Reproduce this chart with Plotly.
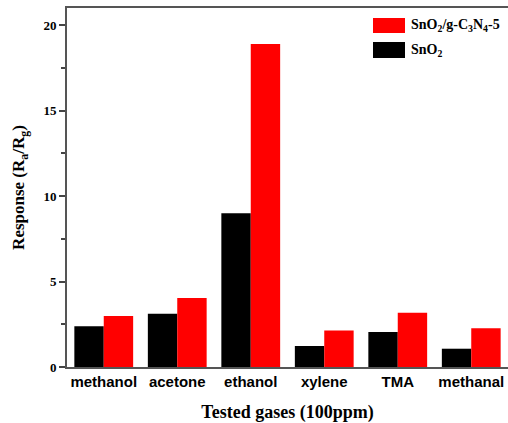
import plotly.graph_objects as go

categories = ["methanol", "acetone", "ethanol", "xylene", "TMA", "methanal"]
sno2 = [2.38, 3.12, 9.0, 1.23, 2.05, 1.07]
composite = [2.98, 4.03, 18.9, 2.14, 3.18, 2.26]
series_names = ["SnO<sub>2</sub>/g-C<sub>3</sub>N<sub>4</sub>-5", "SnO<sub>2</sub>"]

serif = "Liberation Serif"
sans = "Liberation Sans"

fig = go.Figure()
fig.add_trace(go.Bar(x=categories, y=sno2, name=series_names[1],
                     marker=dict(color="#000000", line=dict(width=0))))
fig.add_trace(go.Bar(x=categories, y=composite, name=series_names[0],
                     marker=dict(color="#ff0000", line=dict(width=0))))

# manual legend (large swatches), positioned in paper coordinates
L, W = 67, 441
B, H = 367, 359
def px(x):
    return (x - L) / W
def py(y):
    return (B - y) / H

swatches = [("#ff0000", 18, 33, series_names[0]), ("#000000", 42, 58, series_names[1])]
for color, y0, y1, label in swatches:
    fig.add_shape(type="rect", xref="paper", yref="paper",
                  x0=px(373), x1=px(405), y0=py(y1), y1=py(y0),
                  fillcolor=color, line=dict(width=0))
    fig.add_annotation(xref="paper", yref="paper", x=px(409), y=py((y0 + y1) / 2),
                       text=label, showarrow=False, xanchor="left", yanchor="middle",
                       font=dict(family=serif, size=14, color="#000", weight="bold"))

fig.update_layout(
    width=508, height=423,
    margin=dict(l=67, r=0, t=8, b=56),
    paper_bgcolor="white", plot_bgcolor="white",
    barmode="group", bargap=0.2, bargroupgap=0,
    showlegend=False,
    xaxis=dict(
        range=[-0.5, 5.5], showgrid=False, zeroline=False,
        showline=True, linecolor="#555", linewidth=2, mirror=True,
        ticks="", tickfont=dict(family=sans, size=15, color="#000", weight="bold"),
        title=dict(text="Tested gases (100ppm)", standoff=16,
                   font=dict(family=serif, size=18, color="#000", weight="bold")),
    ),
    yaxis=dict(
        range=[0, 21], showgrid=False, zeroline=False,
        showline=True, linecolor="#555", linewidth=2,
        tickmode="linear", tick0=0, dtick=5,
        ticks="outside", ticklen=6, tickwidth=1.5, tickcolor="#444",
        minor=dict(tickmode="linear", tick0=0, dtick=2.5, ticks="outside",
                   ticklen=4, tickwidth=1.5, tickcolor="#444", showgrid=False),
        tickfont=dict(family=serif, size=13, color="#000", weight="bold"),
        title=dict(text="Response (R<sub>a</sub>/R<sub>g</sub>)", standoff=14,
                   font=dict(family=serif, size=17, color="#000", weight="bold")),
    ),
)

fig.write_html("out.html")
